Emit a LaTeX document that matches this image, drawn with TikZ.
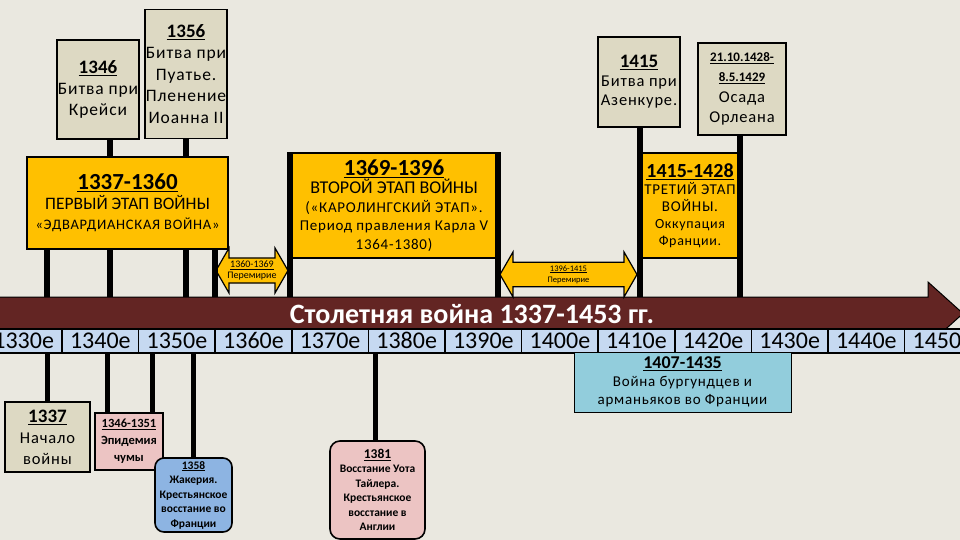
\documentclass[tikz,border=0pt]{standalone}
\usepackage{fontspec}
\setmainfont{Carlito}
\newfontfamily\spaced[LetterSpace=5]{Carlito}
\usetikzlibrary{shapes.arrows,backgrounds}
\definecolor{paperbg}{RGB}{234,232,224}
\definecolor{sand}{RGB}{221,217,195}
\definecolor{gold}{RGB}{255,192,0}
\definecolor{wine}{RGB}{99,37,35}
\definecolor{decade}{RGB}{198,217,241}
\definecolor{rose}{RGB}{236,196,195}
\definecolor{sky}{RGB}{141,180,226}
\definecolor{aqua}{RGB}{146,205,220}
\newcommand{\fs}[2]{\fontsize{#1}{#2}\selectfont}
\tikzset{
  evt/.style={draw=black,line width=1.6pt,fill=#1,align=center,inner sep=0pt},
  phase/.style={draw=black,line width=1.2pt,fill=gold,align=center,inner sep=0pt},
  truce/.style={double arrow,draw=black,line width=1.2pt,fill=gold,align=center,
    double arrow head extend=9pt,double arrow tip angle=120,inner sep=1pt,minimum width=45pt},
  stem/.style={line width=6pt,black},
  leg/.style={line width=5pt,black},
  cell/.style={draw=black,line width=1.5pt,fill=decade,minimum width=76.6pt,
    minimum height=24pt,inner sep=0pt,text height=16pt,text depth=2pt,font=\fs{24}{24}},
}
\begin{document}
\begin{tikzpicture}[x=1pt,y=-1pt]
  \useasboundingbox (0,0) rectangle (960,540);
  % years on the axis
  \foreach \yr/\xx in {1337/47,1346/110,1356/186,1360/215,1369/290,1396/498,1415/640,1428/740}
    \coordinate (t\yr) at (\xx,0);
  \foreach \yr/\xx in {1337/47,1346/107,1351/152,1358/193,1381/375}
    \coordinate (u\yr) at (\xx,0);
  \coordinate (axN) at (0,297);
  \coordinate (axS) at (0,352);

  % events above
  \node[evt=sand,minimum width=82pt,minimum height=99pt,font=\spaced\fs{17.5}{21}] (b1346) at (98,89.5)
    {{\rmfamily\fs{19}{21}\bfseries\underline{1346}}\\Битва при\\Крейси};
  \node[evt=sand,minimum width=82pt,minimum height=129pt,font=\spaced\fs{17.5}{21.5}] (b1356) at (186,74)
    {{\rmfamily\fs{19}{21.5}\bfseries\underline{1356}}\\Битва при\\Пуатье.\\Пленение\\Иоанна II};
  \node[evt=sand,minimum width=82pt,minimum height=90pt,font=\spaced\fs{16.5}{19}] (b1415) at (639,82)
    {{\rmfamily\fs{19}{24}\bfseries\underline{1415}}\\Битва при\\Азенкуре.};
  \node[evt=sand,minimum width=88pt,minimum height=92pt,font=\spaced\fs{16.5}{20.5}] (b1428) at (742,89)
    {{\rmfamily\fs{13}{19}\bfseries\underline{21.10.1428-}}\\{\rmfamily\fs{13}{19}\bfseries\underline{8.5.1429}}\\Осада\\Орлеана};

  % phases
  \node[phase,minimum width=201pt,minimum height=92pt,font=\fs{17.5}{20}] (p1) at (127.5,203)
    {{\fs{23}{26}\bfseries\underline{1337-1360}}\\ПЕРВЫЙ ЭТАП ВОЙНЫ\\{\spaced\fs{14.5}{19}«ЭДВАРДИАНСКАЯ ВОЙНА»}};
  \node[phase,minimum width=208pt,minimum height=105pt,font=\spaced\fs{15}{18.5}] (p2) at (394,205.5)
    {{\rmfamily\fs{23}{25}\bfseries\underline{1369-1396}}\\{\rmfamily\fs{18}{23}ВТОРОЙ ЭТАП ВОЙНЫ}\\(«КАРОЛИНГСКИЙ ЭТАП».\\Период правления Карла V\\1364-1380)};
  \node[phase,minimum width=100pt,minimum height=105pt,font=\spaced\fs{14}{17}] (p3) at (690,205.5)
    {{\rmfamily\fs{20}{22}\bfseries\underline{1415-1428}}\\{\fs{15}{19}ТРЕТИЙ ЭТАП}\\{\fs{15}{19}ВОЙНЫ.}\\Оккупация\\Франции.};

  % truces
  \node[truce,minimum height=72pt,font=\fs{10}{11}] (a1) at (252,270.5)
    {\underline{1360-1369}\\Перемирие};
  \node[truce,minimum height=137pt,font=\fs{8.5}{11}] (a2) at (568.5,274.5)
    {\underline{1396-1415}\\Перемирие};

  % axis
  \begin{scope}[on background layer]
    \fill[paperbg] (0,0) rectangle (960,540);
    \filldraw[wine,draw=black,line width=1pt] (-5,297) -- (928,297) -- (928,282) -- (963,313.5)
      -- (928,345) -- (928,329) -- (-5,329) -- cycle;
  \end{scope}
  \node[font=\fs{28}{30}\bfseries,text=white] (title) at (472,314) {Столетняя война 1337-1453 гг.};
  \foreach \d [count=\i from 0] in {1330,1340,...,1450}
    \node[cell] (d\d) at ({23.7+76.6*\i},341) {\d е};

  % events below
  \node[evt=sand,minimum width=85pt,minimum height=70pt,font=\spaced\fs{16.5}{21}] (c1337) at (47.5,437)
    {{\rmfamily\fs{19}{21}\bfseries\underline{1337}}\\Начало\\войны};
  \node[evt=rose,minimum width=68pt,minimum height=57pt,font=\fs{12.5}{17}\bfseries] (c1346) at (129,441.5)
    {\underline{1346-1351}\\Эпидемия\\чумы};
  \node[evt=sky,rounded corners=9pt,minimum width=77pt,minimum height=74pt,font=\fs{11.5}{14.5}\bfseries] (c1358) at (193.5,495)
    {\underline{1358}\\Жакерия.\\Крестьянское\\восстание во\\Франции};
  \node[evt=rose,rounded corners=10pt,minimum width=95pt,minimum height=98pt,font=\fs{11.5}{14.5}\bfseries] (c1381) at (377.5,490)
    {{\fs{13.5}{16}\underline{1381}}\\Восстание Уота\\Тайлера.\\Крестьянское\\восстание в\\Англии};
  \node[evt=aqua,line width=1pt,minimum width=217pt,minimum height=60pt,font=\spaced\fs{15}{18}] (c1407) at (682.5,382)
    {{\rmfamily\fs{18}{20}\bfseries\underline{1407-1435}}\\Война бургундцев и\\арманьяков во Франции};

  % stems
  \draw[stem] (b1346.south -| t1346) -- (p1.north -| t1346);
  \draw[stem] (b1356.south -| t1356) -- (p1.north -| t1356);
  \foreach \yr in {1337,1346,1356,1360}
    \draw[stem] (p1.south -| t\yr) -- (axN -| t\yr);
  \draw[stem] (p2.north -| t1369) -- (axN -| t1369);
  \draw[stem] (p2.north -| t1396) -- (axN -| t1396);
  \draw[stem] (b1415.south -| t1415) -- (axN -| t1415);
  \draw[stem] (b1428.south -| t1428) -- (axN -| t1428);
  \draw[leg] (axS -| u1337) -- (c1337.north -| u1337);
  \draw[leg] (axS -| u1346) -- (c1346.north -| u1346);
  \draw[leg] (axS -| u1351) -- (c1346.north -| u1351);
  \draw[leg] (axS -| u1358) -- (c1358.north -| u1358);
  \draw[leg] (axS -| u1381) -- (c1381.north -| u1381);
\end{tikzpicture}
\end{document}
